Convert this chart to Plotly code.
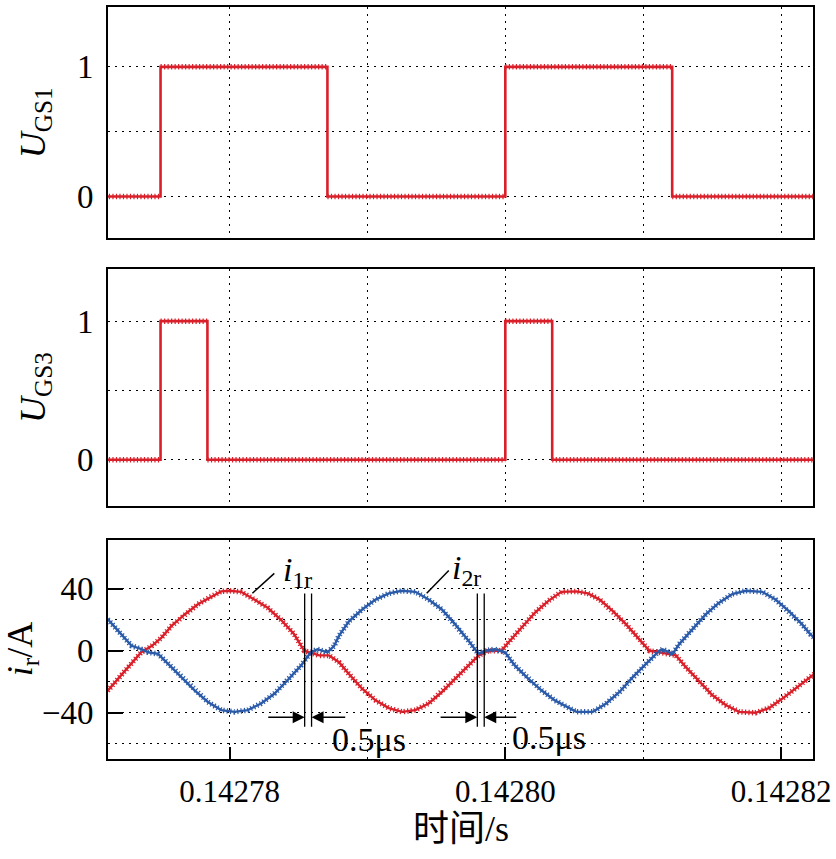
import plotly.graph_objects as go
from plotly.subplots import make_subplots

# time axis in microseconds after 0.1427 s
T0 = 0.1427

UGS1_T = [71.0, 75.0, 87.1, 100.0, 112.1, 122.4]
UGS1 = [0, 1, 0, 1, 0, 0]
UGS3_T = [71.0, 75.0, 78.4, 100.0, 103.4, 122.4]
UGS3 = [0, 1, 0, 1, 0, 0]

I1R_T = [71.0, 71.2, 71.9, 72.9, 73.6, 74.35, 75.07, 75.8, 76.75, 77.71,
         78.68, 79.4, 80.0, 80.84, 81.8, 82.77, 83.73, 84.69, 85.42, 86.5,
         87.22, 87.94, 88.66, 89.62, 90.59, 91.55, 92.51, 93.48, 94.44, 95.4,
         96.37, 97.33, 98.05, 98.77, 99.73, 100.22, 101.18, 102.14, 103.1, 104.07,
         105.15, 105.99, 106.84, 107.8, 108.76, 109.73, 110.45, 111.17, 112.37, 113.09,
         114.06, 115.02, 115.98, 116.95, 118.14, 119.11, 120.07, 121.03, 122.12, 122.4]
I1R = [-27.5, -25.5, -18, -8.5, -1, 3, 8.5, 16, 23.4, 30,
       35, 38.3, 38.7, 38, 33, 27.7, 20, 10.6, 0, -3,
       -3, -7.4, -15, -24.5, -32, -37, -39.4, -38.3, -34, -26.6,
       -18, -9.6, -3.2, 0, 0, 5.3, 15, 24.5, 32, 38,
       38.3, 37, 33, 25.5, 17, 7.4, 0, -1, -3, -10.6,
       -20, -28.7, -35, -39.4, -40, -37, -31, -24.5, -17, -15]

I2R_T = [71.0, 71.21, 71.93, 72.9, 73.62, 74.1, 74.82, 75.55, 76.51, 77.47,
         78.43, 79.4, 80.36, 81.32, 82.29, 83.25, 84.21, 85.18, 85.9, 86.38,
         87.1, 87.58, 87.94, 88.66, 89.62, 90.59, 91.55, 92.51, 93.48, 94.44,
         95.4, 96.37, 97.33, 98.05, 98.53, 99.25, 99.98, 100.7, 101.66, 102.62,
         103.59, 104.43, 105.15, 106.35, 107.31, 108.28, 109.24, 110.2, 111.17, 111.41,
         112.13, 112.61, 113.57, 114.53, 115.5, 116.46, 117.42, 118.63, 119.59, 120.56,
         121.52, 122.12, 122.4]
I2R = [22, 20, 12.8, 3.2, 1, -1, -2, -8.5, -17, -25.5,
       -33, -38.3, -39.4, -38.3, -34, -27.7, -19, -9.6, -1, 1,
       -1, 3, 9.6, 19, 26.6, 33, 37, 38.7, 38, 33,
       26.6, 17, 6.4, -2, 0, 1, -1, -9.6, -18, -25.5,
       -32, -36, -39.4, -39.4, -34, -26.6, -17, -8.5, 0, 1,
       -2, 4.3, 14, 23.4, 31, 36.6, 38.7, 38, 33, 25.5,
       17, 10.6, 8.5]

X_TICKS = [0.14278, 0.14280, 0.14282]
X_TICK_TEXT = ["0.14278", "0.14280", "0.14282"]
X_MINOR = [0.14279, 0.14281]

# dead-time markers (us) and label anchors
DEAD_MARKS = [(85.45, 85.95), (97.97, 98.47)]
DEAD_LABEL_POS = [(90.1, -57), (103.2, -56)]
DEAD_ARROW_FROM = [(82.7, 88.5), (95.2, 100.9)]

RED = "#d9202a"
BLUE = "#2b5ba8"
SERIF = "Liberation Serif, Times New Roman, serif"
COMB = "1.2px,2.3px"


def s(us_list):
    return [T0 + u * 1e-6 for u in us_list]


def flat_segments(ts, vs):
    # horizontal pieces of a step signal, separated by gaps
    xs, ys = [], []
    for i in range(len(ts) - 1):
        xs += [T0 + ts[i] * 1e-6, T0 + ts[i + 1] * 1e-6, None]
        ys += [vs[i], vs[i], None]
    return xs, ys


fig = make_subplots(rows=3, cols=1, shared_xaxes=True)

for r, (ts, vs) in enumerate([(UGS1_T, UGS1), (UGS3_T, UGS3)], start=1):
    cx, cy = flat_segments(ts, vs)
    fig.add_trace(go.Scatter(x=cx, y=cy, mode="lines", connectgaps=False,
                             line=dict(color=RED, width=5.5, dash=COMB)), row=r, col=1)
    fig.add_trace(go.Scatter(x=s(ts), y=vs, mode="lines", line_shape="hv",
                             line=dict(color=RED, width=2.6)), row=r, col=1)

for ts, vs, c in ((I1R_T, I1R, RED), (I2R_T, I2R, BLUE)):
    fig.add_trace(go.Scatter(x=s(ts), y=vs, mode="lines",
                             line=dict(color=c, width=5.5, dash=COMB)), row=3, col=1)
    fig.add_trace(go.Scatter(x=s(ts), y=vs, mode="lines",
                             line=dict(color=c, width=2.4)), row=3, col=1)

grid = dict(showgrid=True, gridcolor="black", gridwidth=1.2, griddash="2px,5px")
frame = dict(showline=True, linecolor="black", linewidth=1.8, mirror=True, zeroline=False)

xrange = [T0 + 71.19e-6, T0 + 122.31e-6]
for r in (1, 2, 3):
    fig.update_xaxes(range=xrange, tickvals=X_TICKS, ticktext=X_TICK_TEXT,
                     minor=dict(tickvals=X_MINOR, **grid, ticks=""),
                     **grid, **frame, row=r, col=1)
fig.update_xaxes(showticklabels=False, ticks="", row=1, col=1)
fig.update_xaxes(showticklabels=False, ticks="", row=2, col=1)
fig.update_xaxes(showticklabels=True, ticks="inside", ticklen=12, tickwidth=1.5,
                 tickcolor="black", ticklabelstandoff=4, ticklabeloverflow="allow",
                 tickfont=dict(family=SERIF, size=31, color="black"), row=3, col=1)

fig.update_yaxes(range=[-0.323, 1.4615], row=1, col=1)
fig.update_yaxes(range=[-0.331, 1.374], row=2, col=1)
for r in (1, 2):
    fig.update_yaxes(tickvals=[0, 1], ticktext=["0", "1"], ticks="",
                     minor=dict(tickvals=[0.5], **grid, ticks=""),
                     tickfont=dict(family=SERIF, size=33, color="black"),
                     ticklabelstandoff=6, **grid, **frame, row=r, col=1)
fig.update_yaxes(range=[-69.8, 71.7], tickvals=[-40, 0, 40],
                 ticktext=["\u221240", "0", "40"], ticks="inside", ticklen=15,
                 tickwidth=1.5, tickcolor="black", ticklabelstandoff=6,
                 minor=dict(tickvals=[-60, -20, 20], **grid, ticks=""),
                 tickfont=dict(family=SERIF, size=33, color="black"),
                 **grid, **frame, row=3, col=1)

# panel placement
fig.update_layout(
    yaxis=dict(domain=[0.6923, 1.0]),
    yaxis2=dict(domain=[0.3369, 0.6512]),
    yaxis3=dict(domain=[0.0, 0.2918]),
)

# dead-time markers
for (a, b), (lx, ly), (fa, fb) in zip(DEAD_MARKS, DEAD_LABEL_POS, DEAD_ARROW_FROM):
    for xv in (a, b):
        fig.add_shape(type="line", x0=T0 + xv * 1e-6, x1=T0 + xv * 1e-6, y0=37, y1=-49,
                      xref="x3", yref="y3", line=dict(color="black", width=1.3))
    for tip, tail in ((a, fa), (b, fb)):
        fig.add_annotation(x=T0 + tip * 1e-6, y=-42.8, ax=T0 + tail * 1e-6, ay=-42.8,
                           xref="x3", yref="y3", axref="x3", ayref="y3", text="",
                           showarrow=True, arrowhead=2, arrowsize=1.6, arrowwidth=1.5,
                           arrowcolor="black")
    fig.add_annotation(x=T0 + lx * 1e-6, y=ly, xref="x3", yref="y3", text="0.5\u03bcs",
                       showarrow=False, font=dict(family=SERIF, size=34, color="black"))

# current labels with leader lines
LABELS = [("<i>i</i><sub>1r</sub>", 84.9, 51, (81.66, 37.1), (83.25, 49.9)),
          ("<i>i</i><sub>2r</sub>", 97.2, 52, (94.3, 37.1), (95.9, 51.8))]
for text, tx, ty, p0, p1 in LABELS:
    fig.add_shape(type="line", x0=T0 + p0[0] * 1e-6, y0=p0[1], x1=T0 + p1[0] * 1e-6, y1=p1[1],
                  xref="x3", yref="y3", line=dict(color="black", width=1.5))
    fig.add_annotation(x=T0 + tx * 1e-6, y=ty, xref="x3", yref="y3", text=text,
                       showarrow=False, font=dict(family=SERIF, size=34, color="black"))

# axis titles
YTITLES = [("<i>U</i><sub>GS1</sub>", -0.103, 0.846),
           ("<i>U</i><sub>GS3</sub>", -0.103, 0.494),
           ("<i>i</i><sub>r</sub>/A", -0.122, 0.146)]
for text, px, py in YTITLES:
    fig.add_annotation(x=px, y=py, xref="paper", yref="paper", text=text, textangle=-90,
                       showarrow=False, xanchor="center", yanchor="middle",
                       font=dict(family=SERIF, size=36, color="black"))
fig.add_annotation(x=0.5, y=-0.093, xref="paper", yref="paper", text="时间/s",
                   showarrow=False, yanchor="middle",
                   font=dict(family="Liberation Serif, Noto Sans CJK SC", size=36, color="black"))

fig.update_layout(
    width=836, height=859,
    margin=dict(l=108, r=20, t=5, b=100),
    plot_bgcolor="white", paper_bgcolor="white",
    showlegend=False,
)

fig.write_html("out.html", config={"displayModeBar": False},
               post_script="document.body.style.margin='0';"
                           "document.body.style.overflow='hidden';")
